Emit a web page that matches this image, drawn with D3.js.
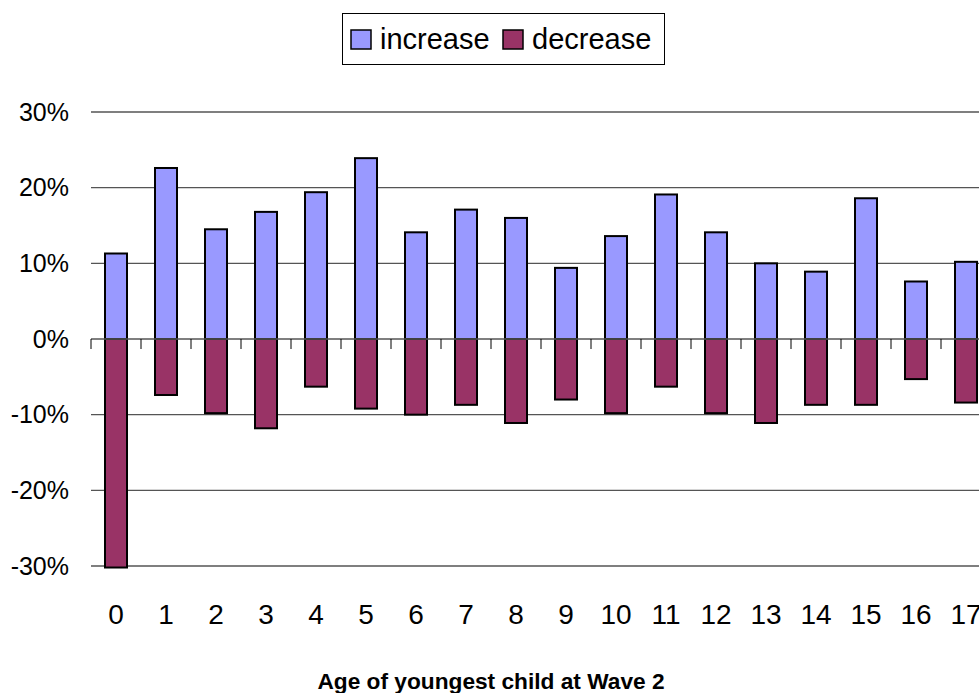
<!DOCTYPE html>
<html>
<head>
<meta charset="utf-8">
<script src="https://cdn.jsdelivr.net/npm/d3@7"></script>
<style>
  html, body { margin: 0; padding: 0; background: #fff; }
  svg { display: block; font-family: "Liberation Sans", Arial, sans-serif; }
</style>
</head>
<body>
<svg id="chart" width="979" height="693"></svg>
<script>
// Age of youngest child at Wave 2
const categories = ["0","1","2","3","4","5","6","7","8","9","10","11","12","13","14","15","16","17"];
const increase = [0.113, 0.226, 0.145, 0.168, 0.194, 0.239, 0.141, 0.171, 0.160, 0.094, 0.136, 0.191, 0.141, 0.100, 0.089, 0.186, 0.076, 0.102];
const decrease = [-0.302, -0.074, -0.098, -0.118, -0.063, -0.092, -0.100, -0.087, -0.111, -0.080, -0.098, -0.063, -0.098, -0.111, -0.087, -0.087, -0.053, -0.084];
const yTicks = [-0.3, -0.2, -0.1, 0, 0.1, 0.2, 0.3];
const seriesNames = ["increase", "decrease"];
const seriesColors = ["#9999FF", "#993366"];

const svg = d3.select("#chart");

const x = d3.scaleBand().domain(categories).range([91, 991]).padding(0);
const y = d3.scaleLinear().domain([-0.3, 0.3]).range([566, 112]);

const fmt = d3.formatLocale({decimal: ".", thousands: ",", grouping: [3], currency: ["", ""], minus: "-", percent: "%"}).format(".0%");

// gridlines
svg.append("g")
  .selectAll("line")
  .data(yTicks.filter(d => d !== 0))
  .join("line")
  .attr("x1", 91).attr("x2", 991)
  .attr("y1", d => y(d)).attr("y2", d => y(d))
  .attr("stroke", "#555").attr("stroke-width", 1.3);

// y tick labels
svg.append("g")
  .selectAll("text")
  .data(yTicks)
  .join("text")
  .attr("x", 69)
  .attr("y", d => y(d))
  .attr("dy", "0.35em")
  .attr("text-anchor", "end")
  .attr("font-size", 25)
  .attr("fill", "#000")
  .text(d => fmt(d));

const barW = x.bandwidth() * 0.44;
const barX = c => x(c) + (x.bandwidth() - barW) / 2;

// bars
const series = [increase, decrease];
series.forEach((vals, si) => {
  svg.append("g")
    .selectAll("rect")
    .data(vals.map((v, i) => ({c: categories[i], v})))
    .join("rect")
    .attr("x", d => barX(d.c))
    .attr("width", barW)
    .attr("y", d => y(Math.max(0, d.v)))
    .attr("height", d => Math.abs(y(d.v) - y(0)))
    .attr("fill", seriesColors[si])
    .attr("stroke", "#000")
    .attr("stroke-width", 2);
});

// zero axis with category tick marks
svg.append("line")
  .attr("x1", 91).attr("x2", 991)
  .attr("y1", y(0)).attr("y2", y(0))
  .attr("stroke", "#555").attr("stroke-width", 1.3);
svg.append("g")
  .selectAll("line")
  .data(categories)
  .join("line")
  .attr("x1", d => x(d)).attr("x2", d => x(d))
  .attr("y1", y(0)).attr("y2", y(0) + 10)
  .attr("stroke", "#000").attr("stroke-width", 1);

// category labels
svg.append("g")
  .selectAll("text")
  .data(categories)
  .join("text")
  .attr("x", d => x(d) + x.bandwidth() / 2)
  .attr("y", 624)
  .attr("text-anchor", "middle")
  .attr("font-size", 28)
  .attr("fill", "#000")
  .text(d => d);

// axis title
svg.append("text")
  .attr("x", 491)
  .attr("y", 689)
  .attr("text-anchor", "middle")
  .attr("font-size", 22.7)
  .attr("font-weight", "bold")
  .attr("fill", "#000")
  .text("Age of youngest child at Wave 2");

// legend
const lg = svg.append("g");
lg.append("rect")
  .attr("x", 342.5).attr("y", 13.5).attr("width", 322).attr("height", 51)
  .attr("fill", "#fff").attr("stroke", "#000").attr("stroke-width", 1);
const legendX = [351, 503];
seriesNames.forEach((name, i) => {
  lg.append("rect")
    .attr("x", legendX[i]).attr("y", 30).attr("width", 20).attr("height", 19)
    .attr("fill", seriesColors[i]).attr("stroke", "#000").attr("stroke-width", 1.5);
  lg.append("text")
    .attr("x", legendX[i] + 29).attr("y", 49)
    .attr("font-size", 29)
    .attr("fill", "#000")
    .text(name);
});
</script>
</body>
</html>
